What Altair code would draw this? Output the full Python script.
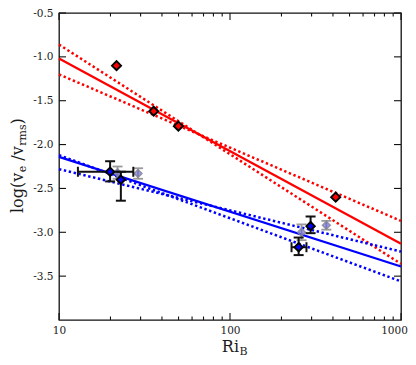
import altair as alt
import pandas as pd

# ---------------- data ----------------
line_x = [10, 1000]
red_fit = [-1.02, -3.13]
red_band_a = [-0.86, -3.36]
red_band_b = [-1.20, -2.87]
blue_fit = [-2.14, -3.39]
blue_band_a = [-2.12, -3.56]
blue_band_b = [-2.28, -3.22]

red_x = [21.7, 35.8, 49.9, 415]
red_y = [-1.10, -1.62, -1.79, -2.60]

blue_x = [19.9, 23.0, 252, 296]
blue_y = [-2.31, -2.40, -3.17, -2.93]
blue_ylo = [-2.42, -2.64, -3.26, -3.01]
blue_yhi = [-2.19, -2.31, -3.06, -2.82]
blue_xlo = [12.9, None, 229, None]
blue_xhi = [27.2, None, 280, None]

gray_x = [22.0, 29.0, 262, 366]
gray_y = [-2.32, -2.33, -3.00, -2.92]
gray_ylo = [-2.39, -2.39, -3.09, -2.97]
gray_yhi = [-2.25, -2.27, -2.91, -2.87]

x_label_vals = [10, 100, 1000]
y_label_vals = [-0.5, -1.0, -1.5, -2.0, -2.5, -3.0, -3.5]
x_minor_ticks = [20, 30, 40, 50, 60, 70, 80, 90, 200, 300, 400, 500, 600, 700, 800, 900]
x_major_ticks = [10, 100, 1000]

y_title_parts = ["log(v", "e", "/v", "rms", ")"]
x_title_parts = ["Ri", "B"]

# ---------------- layout ----------------
W, H = 342, 307
FONT = "DejaVu Serif"
TXT = "#1a1a1a"

xs = alt.Scale(type="log", domain=[10, 1000], nice=False)
ys = alt.Scale(domain=[-4, -0.5], nice=False, zero=False)
X_AX = alt.Axis(values=x_label_vals, format="d", title=None, labelPadding=5,
                labelFlush=False,
                labelOffset={"expr": "datum.value >= 1000 ? -7 : 0"})
Y_AX = alt.Axis(values=y_label_vals, title=None, labelPadding=6,
                labelExpr="replace(format(datum.value, '.1f'), '\u2212', '-')")


def X(f):
    return alt.X(f, type="quantitative", scale=xs, axis=X_AX)


def Y(f):
    return alt.Y(f, type="quantitative", scale=ys, axis=Y_AX)


# lines
rows = []
for name, col, vals in [("rf", "red", red_fit), ("bf", "blue", blue_fit)]:
    for a, b in zip(line_x, vals):
        rows.append({"series": name, "col": col, "x": a, "y": b})
df_solid = pd.DataFrame(rows)
rows = []
for name, col, vals in [("ra", "red", red_band_a), ("rb", "red", red_band_b),
                        ("ba", "blue", blue_band_a), ("bb", "blue", blue_band_b)]:
    for a, b in zip(line_x, vals):
        rows.append({"series": name, "col": col, "x": a, "y": b})
df_dot = pd.DataFrame(rows)

COL = alt.Color("col:N", scale=alt.Scale(domain=["red", "blue"], range=["#ff0000", "#0000ff"]), legend=None)

solid = alt.Chart(df_solid).mark_line(strokeWidth=2.3).encode(
    x=X("x"), y=Y("y"), color=COL, detail="series:N")
dotted = alt.Chart(df_dot).mark_line(strokeWidth=2.5, strokeDash=[2.4, 2.6], strokeCap="butt").encode(
    x=X("x"), y=Y("y"), color=COL, detail="series:N")


def err_layers(xv, yv, ylo, yhi, xlo, xhi, color, width):
    layers = []
    dv = pd.DataFrame({"x": xv, "lo": ylo, "hi": yhi})
    layers.append(alt.Chart(dv).mark_rule(color=color, strokeWidth=width).encode(
        x=X("x"), y=Y("lo"), y2="hi"))
    caps = pd.DataFrame({"x": list(xv) + list(xv), "y": list(ylo) + list(yhi)})
    layers.append(alt.Chart(caps).mark_rule(color=color, strokeWidth=width, xOffset=-5, x2Offset=5).encode(
        x=X("x"), x2="x", y=Y("y")))
    if xlo is not None:
        hr = [(y, a, b) for y, a, b in zip(yv, xlo, xhi) if a is not None]
        if hr:
            dh = pd.DataFrame(hr, columns=["y", "lo", "hi"])
            layers.append(alt.Chart(dh).mark_rule(color=color, strokeWidth=width).encode(
                x=X("lo"), x2="hi", y=Y("y")))
            hc = pd.DataFrame({"x": list(dh["lo"]) + list(dh["hi"]), "y": list(dh["y"]) * 2})
            layers.append(alt.Chart(hc).mark_rule(color=color, strokeWidth=width, yOffset=-5, y2Offset=5).encode(
                x=X("x"), y=Y("y"), y2="y"))
    return layers


gray_err = err_layers(gray_x, gray_y, gray_ylo, gray_yhi, None, None, "#9a9a9a", 1.8)
gray_pts = alt.Chart(pd.DataFrame({"x": gray_x, "y": gray_y})).mark_point(
    shape="diamond", size=60, fill="#5f5fdc", fillOpacity=0.6, stroke="#85859a",
    strokeOpacity=0.85, strokeWidth=1.5).encode(x=X("x"), y=Y("y"))

blue_err = err_layers(blue_x, blue_y, blue_ylo, blue_yhi, blue_xlo, blue_xhi, "#111111", 2)
blue_pts = alt.Chart(pd.DataFrame({"x": blue_x, "y": blue_y})).mark_point(
    shape="diamond", size=70, fill="#0000ff", fillOpacity=1, stroke="black", strokeWidth=1.9,
    opacity=1).encode(x=X("x"), y=Y("y"))

red_pts = alt.Chart(pd.DataFrame({"x": red_x, "y": red_y})).mark_point(
    shape="diamond", size=82, fill="#ff0000", fillOpacity=1, stroke="black", strokeWidth=1.9,
    opacity=1).encode(x=X("x"), y=Y("y"))

# inside ticks on all four sides
df_minor = pd.DataFrame({"v": x_minor_ticks})
df_major = pd.DataFrame({"v": x_major_ticks})
df_yt = pd.DataFrame({"v": y_label_vals})
TK = dict(color="#111111", strokeWidth=1.1)
ticks = [
    alt.Chart(df_minor).mark_rule(**TK).encode(x=X("v"), y=alt.value(H), y2=alt.value(H - 3.5)),
    alt.Chart(df_minor).mark_rule(**TK).encode(x=X("v"), y=alt.value(0), y2=alt.value(3.5)),
    alt.Chart(df_major).mark_rule(**TK).encode(x=X("v"), y=alt.value(H), y2=alt.value(H - 7)),
    alt.Chart(df_major).mark_rule(**TK).encode(x=X("v"), y=alt.value(0), y2=alt.value(7)),
    alt.Chart(df_yt).mark_rule(**TK).encode(y=Y("v"), x=alt.value(0), x2=alt.value(7)),
    alt.Chart(df_yt).mark_rule(**TK).encode(y=Y("v"), x=alt.value(W), x2=alt.value(W - 7)),
]

# titles with subscripts
one = pd.DataFrame({"k": [0]})
ytitle_pos = [(-36, 200, 16), (-33, 159.3, 11), (-36, 147.7, 16), (-33, 132.8, 11), (-36, 111.5, 16)]
titles = []
for txt, (px, py, fs) in zip(y_title_parts, ytitle_pos):
    titles.append(alt.Chart(one).mark_text(text=txt, angle=270, align="left", baseline="alphabetic",
                                           font=FONT, fontSize=fs, color=TXT).encode(
        x=alt.value(px), y=alt.value(py)))
xtitle_pos = [(180, 339, 16, "right"), (180.5, 341.5, 11, "left")]
for txt, (px, py, fs, al) in zip(x_title_parts, xtitle_pos):
    titles.append(alt.Chart(one).mark_text(text=txt, align=al, baseline="alphabetic",
                                           font=FONT, fontSize=fs, color=TXT).encode(
        x=alt.value(px), y=alt.value(py)))

chart = alt.layer(
    solid, dotted, *gray_err, gray_pts, *blue_err, blue_pts, red_pts, *ticks, *titles
).properties(
    width=W, height=H,
    autosize=alt.AutoSizeParams(type="none"),
    padding={"left": 51, "top": 5, "right": 7, "bottom": 37},
).configure_view(
    stroke="#111111", strokeWidth=1.3
).configure_axis(
    labelFont=FONT, labelFontSize=10.5, labelColor=TXT,
    grid=False, domain=False, ticks=False
)

chart.save("out.html", embed_options={"renderer": "svg", "actions": False})
